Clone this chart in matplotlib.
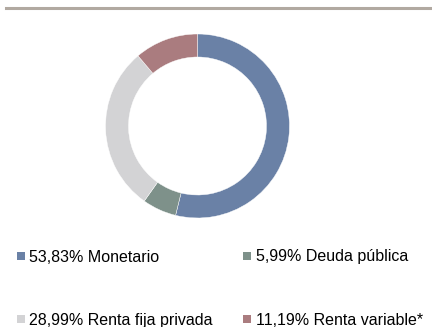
import matplotlib
matplotlib.use("Agg")
import matplotlib.pyplot as plt
from matplotlib.patches import Rectangle

# Portfolio breakdown
labels = ["Monetario", "Deuda pública", "Renta fija privada", "Renta variable*"]
shares = [53.83, 5.99, 28.99, 11.19]
colors = ["#6a81a6", "#7e918a", "#d3d3d5", "#aa7c7f"]

plt.rcParams['font.family'] = ['Liberation Sans', 'DejaVu Sans']

W, H = 432, 327
fig = plt.figure(figsize=(W / 100, H / 100), dpi=100)

# top rule
fig.add_artist(plt.Line2D([6 / W, 1], [1 - 8 / H, 1 - 8 / H], color="#b1a9a1", lw=2.2))

# donut, axes placed in pixel units
cx, cy, r = 197.5, 126, 92
ax = fig.add_axes([(cx - r) / W, (H - cy - r) / H, 2 * r / W, 2 * r / H])
ax.pie(shares, colors=colors, startangle=90, counterclock=False,
       radius=1, wedgeprops=dict(width=0.25, edgecolor="white", linewidth=0.3))
ax.set_xlim(-1, 1)
ax.set_ylim(-1, 1)
ax.set_aspect("equal")
ax.axis("off")

# legend, two columns
col_x = [16.5, 243]
row_y = [255.5, 319]
for i, (lab, val, c) in enumerate(zip(labels, shares, colors)):
    x = col_x[i % 2]
    y = row_y[i // 2]
    fig.add_artist(Rectangle((x / W, (H - y - 4) / H), 8 / W, 8 / H,
                             transform=fig.transFigure, color=c, lw=0))
    txt = f"{val:.2f}".replace(".", ",") + "% " + lab
    fig.text((x + 12.5) / W, (H - y) / H, txt, fontsize=11.5,
             va="center_baseline", ha="left", color="#000000")

fig.savefig("out.png", dpi=100)
